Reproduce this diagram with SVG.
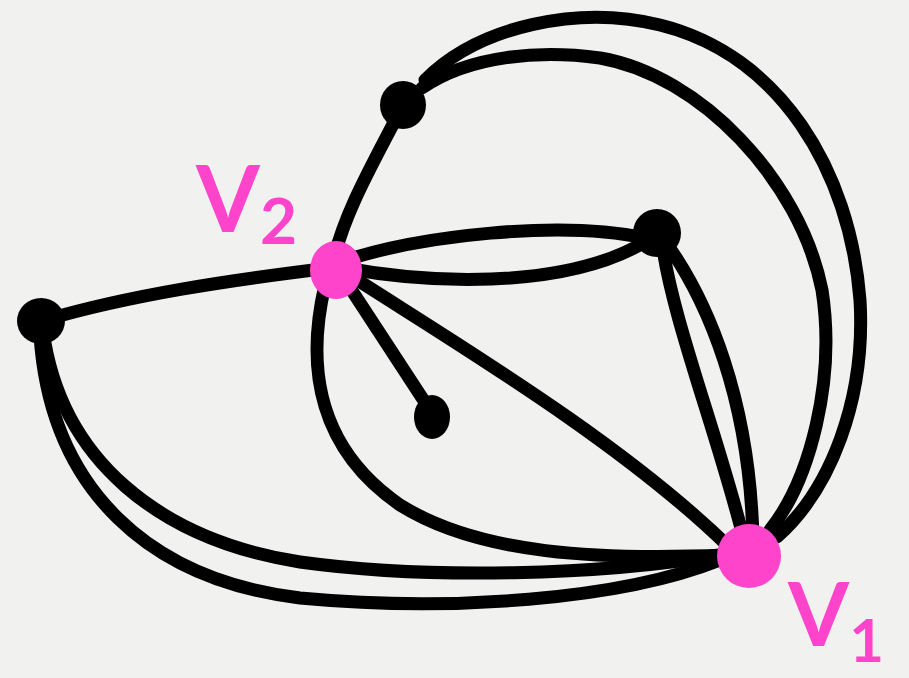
<svg xmlns="http://www.w3.org/2000/svg" width="909" height="678" viewBox="0 0 909 678">
<style>
.e{fill:none;stroke:#000;stroke-width:13;stroke-linecap:round;stroke-linejoin:round}
.b{fill:#000}
.p{fill:#FF44CC}
.lbl{fill:#FF44CC;font-family:Lato,"DejaVu Sans",sans-serif;font-weight:bold}
</style>
<rect width="909" height="678" fill="#f1f1f0"/>
<g id="edges">
<path class="e" d="M 425 80 C 480 25, 580 5, 660 25 C 780 55, 850 170, 860 300 C 866 400, 830 490, 777 537"/>
<path class="e" d="M 422 88 C 470 55, 540 50, 600 58 C 700 75, 800 180, 822 290 C 836 380, 810 480, 770 530"/>
<path class="e" d="M 43 330 C 60 460, 160 540, 300 562 C 430 580, 600 575, 720 555"/>
<path class="e" d="M 40 335 C 50 490, 150 580, 300 598 C 450 612, 620 600, 720 560"/>
<path class="e" d="M 325 285 C 305 370, 320 450, 400 505 C 480 555, 600 560, 725 555"/>
<path class="e" d="M 345 272 C 450 340, 620 440, 730 548"/>
<path class="e" d="M 345 280 L 430 410"/>
<path class="e" d="M 45 320 C 130 295, 230 280, 330 268"/>
<path class="e" d="M 340 262 C 420 235, 560 220, 645 238"/>
<path class="e" d="M 345 268 C 420 282, 560 292, 645 242"/>
<path class="e" d="M 403 105 C 375 160, 345 210, 333 262"/>
<path class="e" d="M 662 242 C 672 320, 720 440, 746 548"/>
<path class="e" d="M 664 240 C 708 300, 750 400, 753 540"/>
</g>
<g id="nodeA"><ellipse class="b" cx="403" cy="105" rx="23" ry="24"/></g>
<g id="nodeB"><ellipse class="b" cx="657" cy="233" rx="24" ry="24"/></g>
<g id="nodeC"><ellipse class="b" cx="41" cy="321" rx="24" ry="23"/></g>
<g id="nodeD"><ellipse class="b" cx="432" cy="417" rx="18" ry="22"/></g>
<g id="v2"><ellipse class="p" cx="336" cy="270" rx="26" ry="29"/></g>
<g id="v1"><ellipse class="p" cx="749" cy="556" rx="32" ry="32"/></g>
<text class="lbl" x="196" y="232" font-size="92">V<tspan font-size="64" dy="12">2</tspan></text>
<text class="lbl" x="788" y="646" font-size="88">V<tspan font-size="60" dy="16">1</tspan></text>
</svg>
